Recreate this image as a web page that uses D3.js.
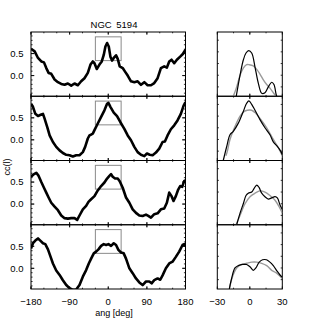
<!DOCTYPE html>
<html>
<head>
<meta charset="utf-8">
<script src="https://d3js.org/d3.v7.min.js"></script>
<style>
body {
  margin: 0;
  background: #fff;
  font-family: "Liberation Sans", Arial, sans-serif;
}
</style>
</head>
<body>
<div id="chart"></div>
<script>
// cross-correlation vs angle, one profile per panel [ang, cc]
var profile1 = [[-180,0.61],[-171.5,0.55],[-163.7,0.40],[-156,0.32],[-149.8,0.30],[-144.4,0.17],[-139,0.06],[-132.8,0.04],[-125,-0.09],[-117.3,-0.15],[-109.5,-0.19],[-101.8,-0.21],[-94.1,-0.18],[-86.3,-0.23],[-78.6,-0.18],[-70.8,-0.22],[-63.1,-0.13],[-55.4,-0.06],[-47.6,0.06],[-41.4,0.25],[-36,0.32],[-32.1,0.28],[-26.7,0.15],[-20.5,0.25],[-15.1,0.32],[-10.5,0.47],[-6.6,0.66],[-2.7,0.74],[1.2,0.66],[5,0.43],[8.9,0.34],[12.8,0.40],[18.2,0.46],[22.1,0.38],[26.7,0.21],[33.7,0.17],[39.1,0.09],[45.3,0.00],[53,-0.13],[60.8,-0.15],[68.5,-0.13],[76.3,-0.21],[84,-0.15],[91.7,-0.22],[99.5,-0.22],[107.2,-0.17],[115,-0.06],[122.7,0.17],[130.4,0.21],[136.6,0.18],[142.1,0.32],[147.5,0.36],[153.7,0.28],[159.9,0.36],[167.6,0.43],[173.8,0.49],[180,0.59]];
var profile2 = [[-180,0.82],[-175.4,0.75],[-169.9,0.59],[-163.7,0.54],[-157.5,0.57],[-152.1,0.59],[-148.3,0.48],[-142.1,0.29],[-136.6,0.10],[-128.9,-0.05],[-121.2,-0.16],[-113.4,-0.24],[-105.7,-0.30],[-97.9,-0.34],[-90.2,-0.35],[-82.5,-0.38],[-74.7,-0.35],[-67,-0.35],[-59.2,-0.28],[-53.8,-0.16],[-47.6,0.03],[-43.7,0.10],[-39.9,0.12],[-36,0.14],[-32.1,0.22],[-24.4,0.37],[-16.6,0.52],[-8.9,0.67],[-2.7,0.82],[0.4,0.84],[5,0.75],[12.8,0.62],[20.5,0.54],[28.3,0.40],[37.5,0.25],[45.3,0.10],[53,-0.01],[60.8,-0.16],[68.5,-0.28],[76.3,-0.34],[84,-0.37],[90.2,-0.31],[96.4,-0.34],[103.4,-0.35],[111.1,-0.29],[118.8,-0.20],[126.6,-0.05],[132,-0.04],[138.2,0.10],[145.9,0.24],[153.7,0.33],[161.4,0.44],[169.2,0.59],[175.4,0.77],[180,0.86]];
var profile3 = [[-180,0.62],[-173,0.68],[-167.6,0.71],[-162.2,0.64],[-156,0.50],[-149.8,0.37],[-144.4,0.26],[-139,0.15],[-132.8,0.03],[-125,-0.06],[-117.3,-0.14],[-109.5,-0.26],[-101.8,-0.32],[-94.1,-0.33],[-86.3,-0.32],[-78.6,-0.32],[-72.4,-0.36],[-67,-0.26],[-59.2,-0.12],[-51.5,-0.04],[-46.1,0.05],[-39.9,0.11],[-32.1,0.18],[-24.4,0.31],[-16.6,0.41],[-8.9,0.49],[-2.7,0.58],[2.7,0.64],[6.6,0.68],[10.4,0.62],[15.9,0.58],[22.1,0.58],[26.7,0.52],[33.7,0.37],[41.4,0.15],[49.2,0.03],[56.9,-0.12],[64.6,-0.20],[72.4,-0.26],[80.1,-0.27],[87.9,-0.24],[93.3,-0.27],[99.5,-0.31],[107.2,-0.23],[115,-0.21],[122.7,-0.12],[130.4,-0.10],[136.6,0.03],[142.1,0.26],[147.5,0.18],[152.1,0.07],[157.5,0.18],[163,0.33],[167.6,0.41],[172.3,0.39],[176.9,0.52],[180,0.54]];
var profile4 = [[-180,0.45],[-175.4,0.57],[-169.9,0.63],[-163.7,0.68],[-158.3,0.63],[-152.1,0.57],[-146.7,0.55],[-140.5,0.43],[-134.3,0.26],[-128.9,0.11],[-121.2,-0.05],[-113.4,-0.15],[-105.7,-0.27],[-97.9,-0.38],[-90.2,-0.45],[-82.5,-0.49],[-74.7,-0.48],[-67,-0.38],[-59.2,-0.19],[-51.5,-0.04],[-45.3,0.11],[-39.9,0.22],[-33.7,0.34],[-28.3,0.38],[-22.8,0.43],[-16.6,0.51],[-10.5,0.55],[-5,0.53],[0.4,0.55],[6.6,0.51],[12.8,0.57],[18.2,0.53],[23.6,0.42],[29.8,0.36],[36,0.34],[41.4,0.22],[49.2,0.00],[56.9,-0.11],[64.6,-0.23],[72.4,-0.32],[80.1,-0.38],[87.9,-0.30],[95.6,-0.30],[101,-0.34],[107.2,-0.27],[115,-0.23],[121.2,-0.26],[126.6,-0.16],[134.3,0.00],[142.1,0.11],[149.8,0.15],[157.5,0.26],[165.3,0.38],[173.1,0.53],[176.9,0.55],[180,0.51]];

// zoomed central peak: black = data, gray = fit
var zoomData1 = [[-12.5,0.32],[-9,0.50],[-6,0.63],[-3.5,0.69],[-1,0.71],[1.75,0.69],[4.8,0.57],[7.9,0.43],[11,0.345],[14,0.35],[17.1,0.40],[20.2,0.44],[22.3,0.42],[24.2,0.34],[24.8,0.32]];
var zoomFit1 = [[-15.2,0.32],[-12.1,0.40],[-9,0.50],[-6,0.56],[-2.9,0.59],[-0.5,0.59],[3.2,0.58],[6.4,0.55],[9.4,0.51],[12.5,0.46],[15.6,0.42],[18.6,0.39],[21.7,0.35],[24.2,0.32]];
var zoomData2 = [[-24.5,0.32],[-21.3,0.44],[-18.3,0.54],[-15.2,0.57],[-10.6,0.64],[-6,0.74],[-2.9,0.81],[-0.8,0.83],[1.75,0.80],[4.8,0.75],[9.4,0.67],[14,0.60],[18.6,0.54],[21.7,0.48],[25.4,0.44],[28.5,0.40],[30,0.37]];
var zoomFit2 = [[-22,0.36],[-20.7,0.40],[-18.3,0.50],[-13.7,0.61],[-9,0.70],[-5.1,0.74],[-2.3,0.75],[1.75,0.75],[4.8,0.73],[9.4,0.68],[15.6,0.60],[21.7,0.50],[26.3,0.43],[30,0.36]];
var zoomData3 = [[-12.1,0.32],[-9,0.42],[-6,0.50],[-3.5,0.57],[-1.4,0.59],[1.75,0.60],[3.9,0.63],[6.4,0.66],[8.5,0.64],[11,0.59],[14,0.56],[17.1,0.54],[20.2,0.55],[23.3,0.56],[25.4,0.55],[27.9,0.49],[30,0.45]];
var zoomFit3 = [[-12.7,0.32],[-9,0.40],[-4.4,0.50],[0.2,0.56],[4.8,0.59],[9.4,0.61],[14,0.60],[18.6,0.57],[23.3,0.53],[27.3,0.47],[30,0.42]];
var zoomData4 = [[-18.9,0.32],[-16.8,0.41],[-13.7,0.50],[-10.6,0.52],[-6.6,0.53],[-2.9,0.53],[0.2,0.51],[3.2,0.48],[5.6,0.50],[8.7,0.55],[11.8,0.57],[15.4,0.57],[18.6,0.55],[21.7,0.52],[25.4,0.47],[27.9,0.44],[30,0.42]];
var zoomFit4 = [[-18.9,0.32],[-15.8,0.43],[-12.1,0.50],[-7.5,0.53],[-2.9,0.54],[1.75,0.55],[6.4,0.55],[11,0.54],[15.6,0.52],[20.2,0.48],[24.2,0.46],[27.9,0.43],[30,0.41]];

var profiles = [profile1, profile2, profile3, profile4];
var zoomData = [zoomData1, zoomData2, zoomData3, zoomData4];
var zoomFit = [zoomFit1, zoomFit2, zoomFit3, zoomFit4];

var angTicks = [-180, -90, 0, 90, 180];
var ccTicks = [0.0, 0.5];
var zoomAngTicks = [-30, 0, 30];
var boxAng = [-30, 30];
var boxCc = [0.34, 0.88];

var svg = d3.select("#chart").append("svg")
  .attr("width", 314)
  .attr("height", 322)
  .style("font-family", '"Liberation Sans", Arial, sans-serif');

var panelH = 64.25;
var tops = [32, 96.25, 160.5, 224.75];

var xL = d3.scaleLinear().domain([-180, 180]).range([31, 185.5]);
var xR = d3.scaleLinear().domain([-30, 30]).range([217.3, 282.3]);

// clip the thick lines to the frames
var defs = svg.append("defs");

tops.forEach(function(top, i) {
  var yL = d3.scaleLinear().domain([-0.47, 0.99]).range([top + panelH, top]);
  var yR = d3.scaleLinear().domain([0.32, 0.87]).range([top + panelH, top]);
  var last = i == tops.length - 1;

  defs.append("clipPath").attr("id", "clipL" + i)
    .append("rect")
    .attr("x", xL.range()[0]).attr("y", top)
    .attr("width", xL.range()[1] - xL.range()[0]).attr("height", panelH);
  defs.append("clipPath").attr("id", "clipR" + i)
    .append("rect")
    .attr("x", xR.range()[0]).attr("y", top)
    .attr("width", xR.range()[1] - xR.range()[0]).attr("height", panelH);

  // left panel
  var gL = svg.append("g");
  drawAxes(gL, xL, yL, d3.range(-180, 181, 30), angTicks,
    d3.range(-0.4, 0.95, 0.1), ccTicks, last, true);

  gL.append("rect")
    .attr("x", xL(boxAng[0]))
    .attr("y", yL(boxCc[1]))
    .attr("width", xL(boxAng[1]) - xL(boxAng[0]))
    .attr("height", yL(boxCc[0]) - yL(boxCc[1]))
    .attr("fill", "none")
    .attr("stroke", "#8a8a8a")
    .attr("stroke-width", 1);

  var lineL = d3.line()
    .x(d => xL(d[0]))
    .y(d => yL(d[1]));
  gL.append("path")
    .attr("clip-path", "url(#clipL" + i + ")")
    .attr("d", lineL(profiles[i]))
    .attr("fill", "none")
    .attr("stroke", "#000")
    .attr("stroke-width", 2.6)
    .attr("stroke-linejoin", "round");

  // right panel (zoom on the box)
  var gR = svg.append("g");
  drawAxes(gR, xR, yR, d3.range(-15, 16, 15), zoomAngTicks,
    d3.range(0.4, 0.85, 0.1), [], last, false);

  var lineR = d3.line()
    .x(d => xR(d[0]))
    .y(d => yR(d[1]))
    .curve(d3.curveCatmullRom.alpha(0.5));
  gR.append("path")
    .attr("clip-path", "url(#clipR" + i + ")")
    .attr("d", lineR(zoomFit[i]))
    .attr("fill", "none")
    .attr("stroke", "#9a9a9a")
    .attr("stroke-width", 1.4);
  gR.append("path")
    .attr("clip-path", "url(#clipR" + i + ")")
    .attr("d", lineR(zoomData[i]))
    .attr("fill", "none")
    .attr("stroke", "#000")
    .attr("stroke-width", 1.2);
});

function drawAxes(g, x, y, xMinor, xMajor, yMinor, yMajor, labelX, labelY) {
  var x0 = x.range()[0], x1 = x.range()[1];
  var yb = y.range()[0], yt = y.range()[1];

  // inward ticks, IDL style, on all four sides
  xMinor.concat(xMajor).forEach(function(v) {
    var len = xMajor.indexOf(v) >= 0 ? 2.5 : 1.3;
    g.append("line").attr("x1", x(v)).attr("x2", x(v))
      .attr("y1", yb).attr("y2", yb - len).attr("stroke", "#000").attr("stroke-width", 0.8);
    g.append("line").attr("x1", x(v)).attr("x2", x(v))
      .attr("y1", yt).attr("y2", yt + len).attr("stroke", "#000").attr("stroke-width", 0.8);
  });
  yMinor.concat(yMajor).forEach(function(v) {
    var major = yMajor.some(m => Math.abs(m - v) < 1e-6);
    var len = major ? 3.2 : 1.6;
    g.append("line").attr("x1", x0).attr("x2", x0 + len)
      .attr("y1", y(v)).attr("y2", y(v)).attr("stroke", "#000").attr("stroke-width", 0.8);
    g.append("line").attr("x1", x1).attr("x2", x1 - len)
      .attr("y1", y(v)).attr("y2", y(v)).attr("stroke", "#000").attr("stroke-width", 0.8);
  });

  g.append("rect")
    .attr("x", x0).attr("y", yt)
    .attr("width", x1 - x0).attr("height", yb - yt)
    .attr("fill", "none").attr("stroke", "#000").attr("stroke-width", 1);

  if (labelY) {
    g.selectAll(".ylab").data(yMajor).enter().append("text")
      .attr("x", x0 - 7.5)
      .attr("y", d => y(d) + 3.4)
      .attr("text-anchor", "end")
      .attr("font-size", 9.5)
      .text(d => d3.format(".1f")(d));
  }
  if (labelX) {
    g.selectAll(".xlab").data(xMajor).enter().append("text")
      .attr("x", d => x(d))
      .attr("y", yb + 15.5)
      .attr("text-anchor", "middle")
      .attr("font-size", 9.5)
      .text(d => d < 0 ? "\u2212" + Math.abs(d) : d);
  }
}

svg.append("text")
  .attr("x", 114).attr("y", 27.5)
  .attr("text-anchor", "middle")
  .attr("font-size", 9.5)
  .attr("word-spacing", 2)
  .text("NGC 5194");

svg.append("text")
  .attr("x", 114).attr("y", 316)
  .attr("text-anchor", "middle")
  .attr("font-size", 9)
  .text("ang [deg]");

svg.append("text")
  .attr("transform", "translate(10,167) rotate(-90)")
  .attr("text-anchor", "middle")
  .attr("font-size", 9)
  .text("cc(l)");
</script>
</body>
</html>
